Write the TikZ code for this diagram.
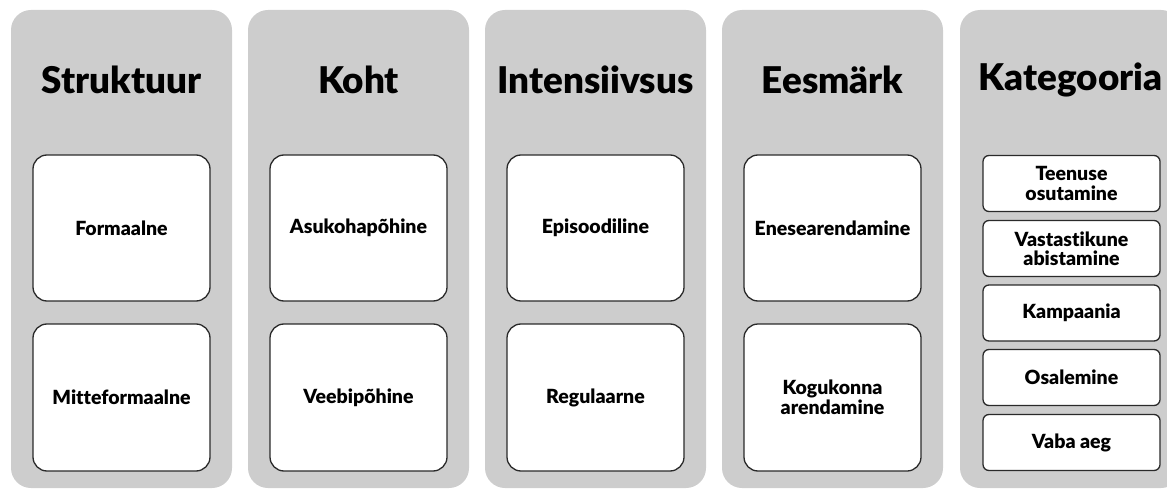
\documentclass[tikz,border=0pt]{standalone}
\usepackage{fontspec}
\setmainfont{Lato}[BoldFont={Lato Black},Ligatures=NoCommon]
\definecolor{colgrey}{HTML}{CDCDCD}
\definecolor{edge}{HTML}{2A2A2A}
\begin{document}
\begin{tikzpicture}[x=1pt,y=-1pt,
  column/.style={fill=colgrey,draw=none,rounded corners=20pt},
  title/.style={font=\fontsize{36.8}{40}\selectfont\bfseries,text=black},
  bigbox/.style={draw=edge,fill=white,line width=1.3pt,rounded corners=14pt},
  smallbox/.style={draw=edge,fill=white,line width=1.3pt,rounded corners=6pt},
  lab/.style={font=\fontsize{19.5}{19.5}\selectfont\bfseries,align=center,text=black}]
\useasboundingbox (0,0) rectangle (1167,489);
\clip (0,0) rectangle (1167,489);
% columns
\foreach \i/\x in {1/11,2/248,3/485,4/722,5/960}{
  \path[column] (\x,10) rectangle ++(221,478);
}
% titles
\node[title] (t1) at (121.5,80) {Struktuur};
\node[title] (t2) at (358.5,80) {Koht};
\node[title] (t3) at (595.5,80) {Intensiivsus};
\node[title] (t4) at (832.5,80) {Eesmärk};
\node[title] (t5) at (1070.5,80) {Kategooria};
% big boxes
\foreach \c/\x in {1/33,2/270,3/507,4/744}{
  \path[bigbox] (\x,155) rectangle ++(177,146);
  \path[bigbox] (\x,324) rectangle ++(177,147);
}
\node[lab] (a1) at (121.5,228) {Formaalne};
\node[lab] (a2) at (121.5,397.5) {Mitteformaalne};
\node[lab] (b1) at (358.5,228) {Asukohapõhine};
\node[lab] (b2) at (358.5,397.5) {Veebipõhine};
\node[lab] (c1) at (595.5,228) {Episoodiline};
\node[lab] (c2) at (595.5,397.5) {Regulaarne};
\node[lab] (d1) at (832.5,228) {Enesearendamine};
\node[lab] (d2) at (832.5,397.5) {Kogukonna\\arendamine};
% small boxes
\foreach \y in {155.5,220.5,285,349.5,414.5}{
  \path[smallbox] (983,\y) rectangle ++(177,56);
}
\node[lab] (e1) at (1071.5,183.5) {Teenuse\\osutamine};
\node[lab] (e2) at (1071.5,248.5) {Vastastikune\\abistamine};
\node[lab] (e3) at (1071.5,312.5) {Kampaania};
\node[lab] (e4) at (1071.5,377.5) {Osalemine};
\node[lab] (e5) at (1071.5,442.5) {Vaba aeg};
\end{tikzpicture}
\end{document}
